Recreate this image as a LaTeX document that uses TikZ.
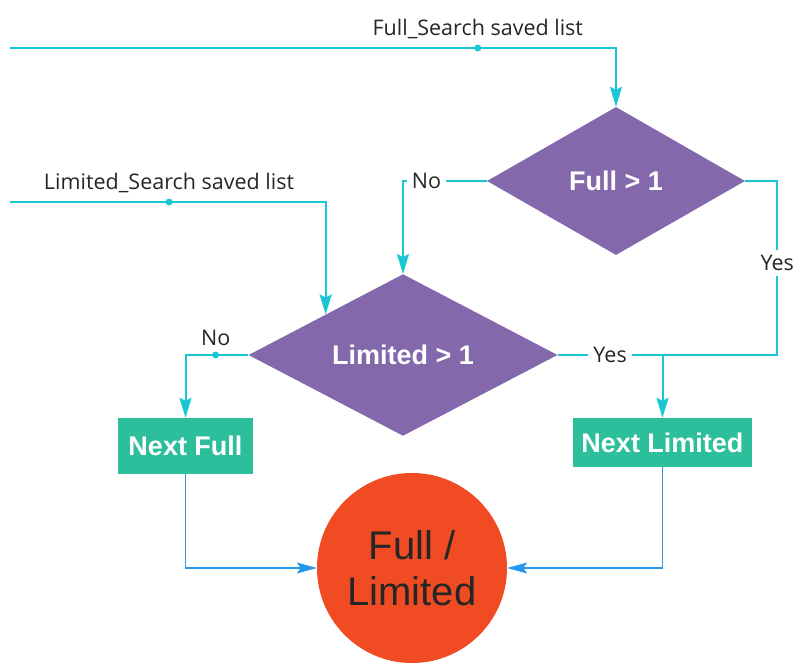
\documentclass[tikz,border=0pt]{standalone}
\usepackage{fontspec}
\setmainfont{Open Sans}
\newfontfamily\arialfont{Liberation Sans}
\usetikzlibrary{shapes.geometric, arrows.meta, positioning}

\definecolor{flowcyan}{RGB}{25,198,212}
\definecolor{flowpurple}{RGB}{132,104,172}
\definecolor{flowteal}{RGB}{45,190,155}
\definecolor{flowred}{RGB}{240,75,35}
\definecolor{flowblue}{RGB}{40,150,235}

\begin{document}
\begin{tikzpicture}[
    x=1pt, y=-1pt,
    decision/.style={
        diamond,
        fill=flowpurple,
        inner sep=0pt,
        text=white,
        font=\arialfont\bfseries\fontsize{27}{32}\selectfont
    },
    nextbox/.style={
        rectangle,
        fill=flowteal,
        inner sep=0pt,
        text=white,
        font=\arialfont\bfseries\fontsize{27}{32}\selectfont
    },
    result/.style={
        circle,
        fill=flowred,
        minimum size=190pt,
        inner sep=0pt,
        align=center,
        text=black!85,
        font=\arialfont\fontsize{40}{46}\selectfont
    },
    joint/.style={
        circle,
        fill=flowcyan,
        inner sep=0pt,
        minimum size=7pt
    },
    lbl/.style={
        text=black!85,
        inner sep=2pt,
        font=\fontsize{21.5}{25}\selectfont
    },
    gaplbl/.style={
        lbl,
        fill=white,
        inner sep=5pt
    },
    flowline/.style={
        draw=flowcyan,
        line width=2pt
    },
    flowarrow/.style={
        flowline,
        -{Stealth[length=20pt, width=12pt, inset=3pt]}
    },
    mergearrow/.style={
        draw=flowblue,
        line width=1.6pt,
        -{Stealth[length=20pt, width=11pt, inset=4pt]}
    }
]

    \useasboundingbox (0,0) rectangle (793,670);

    % --- DECISIONS ---
    \node[decision, minimum width=258pt, minimum height=148pt] (full) at (616,181) {Full > 1};
    \node[decision, minimum width=309pt, minimum height=145pt] (lim) at (403,355) {Limited > 1};

    % --- NEXT STEPS AND RESULT ---
    \node[nextbox, minimum width=135pt, minimum height=56pt] (nextfull) at (185.5,446) {Next Full};
    \node[nextbox, minimum width=179pt, minimum height=49pt] (nextlim) at (662.5,442.5) {Next Limited};
    \node[result] (outcome) at (412,568) {Full /\\Limited};

    % --- SAVED LIST INPUTS ---
    \coordinate (fullsrc) at (10,48);
    \coordinate (limsrc) at (10,202);

    \draw[flowarrow] (fullsrc) -| node[joint, pos=0.386, label={[lbl, label distance=2pt]above:Full\_Search saved list}] {} (full.north);
    \draw[flowarrow] (limsrc) -| node[joint, pos=0.252, label={[lbl, label distance=2pt]above:Limited\_Search saved list}] {} (lim.north west);

    % --- BRANCHES ---
    \draw[flowarrow] (full.west) -| node[gaplbl, pos=0.36] {No} (lim.north);

    \coordinate (merge) at (nextlim.north |- lim.east);
    \draw[flowline] (full.east) -- ++(32,0) |- node[gaplbl, pos=0.235] {Yes} (merge);
    \draw[flowline] (lim.east) -- node[gaplbl] {Yes} (merge);
    \draw[flowarrow] (merge) -- (nextlim.north);

    \draw[flowarrow] (lim.west) -| node[joint, pos=0.26, label={[lbl, label distance=2pt]above:No}] {} (nextfull.north);

    % --- INTO THE RESULT ---
    \draw[mergearrow] (nextfull.south) |- (outcome.west);
    \draw[mergearrow] (nextlim.south) |- (outcome.east);

\end{tikzpicture}
\end{document}
